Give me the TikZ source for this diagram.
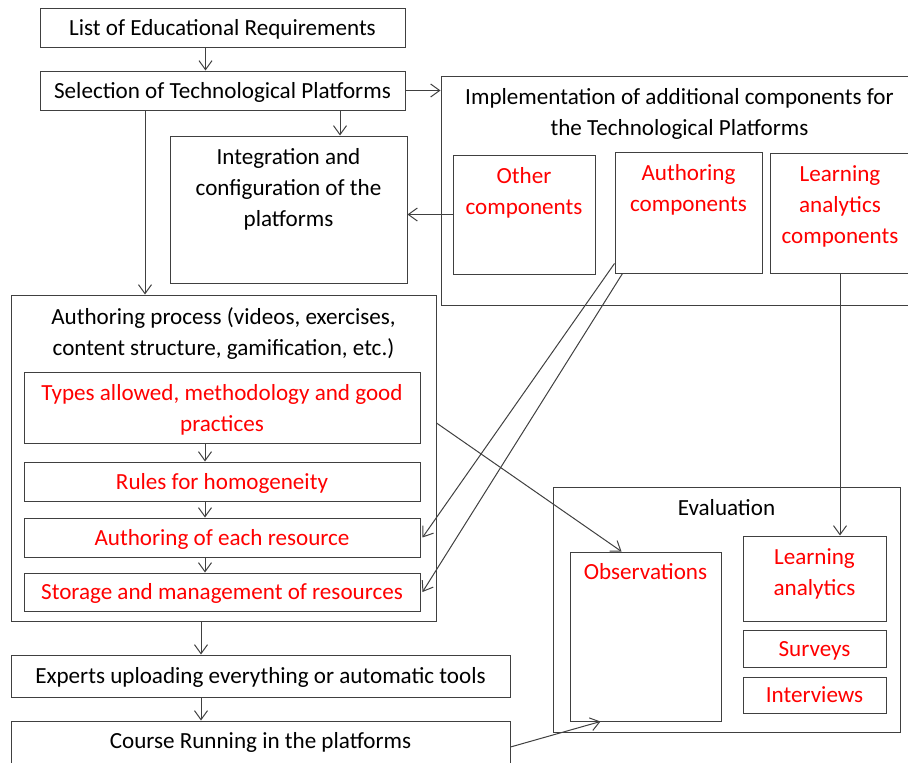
\documentclass[tikz,border=0pt]{standalone}
\usepackage{fontspec}
\setmainfont{Carlito}
\usetikzlibrary{arrows.meta,positioning}
\tikzset{
  blk/.style = {draw=black!75, line width=1pt, rectangle, inner sep=0pt},
  txt/.style = {font=\fontsize{23.1}{31}\selectfont, align=center, inner sep=0pt,
                execute at begin node=\strut, execute at end node=\strut},
  redtxt/.style = {txt, text=red},
  flow/.style = {draw=black!75, line width=1pt, -{Straight Barb[length=9pt,width=13pt]}}
}

\begin{document}
\begin{tikzpicture}[x=1pt,y=-1pt]
  	\useasboundingbox (0,0) rectangle (908,763);
  	\clip (0,0) rectangle (908,763);
  	
  	% left column
  	\node[blk, txt, minimum width=365pt, minimum height=39pt] (req) at (222.5,27.5) {};
  	\node[txt] (reqtxt) at ([yshift=-1.5pt]req.center) {List of Educational Requirements};
  	\node[blk, minimum width=365pt, minimum height=39pt] (sel) at (222.5,90.5) {};
  	\node[txt] (seltxt) at ([yshift=-1.5pt]sel.center) {Selection of Technological Platforms};
  	\node[blk, minimum width=237pt, minimum height=147pt] (integ) at (288.5,209.5) {};
  	\node[txt, below=13pt of integ.north] (integtxt) {Integration and\\configuration of the\\platforms};
  	
  	\node[blk, minimum width=425pt, minimum height=326pt] (proc) at (223.5,458) {};
  	\node[txt, below=13pt of proc.north] (proctxt) {Authoring process (videos, exercises,\\content structure, gamification, etc.)};
  	\node[blk, minimum width=396pt, minimum height=71pt] (types) at (222,407.5) {};
  	\node[redtxt] (typestxt) at ([yshift=-5pt]types.center) {Types allowed, methodology and good\\practices};
  	\node[blk, minimum width=396pt, minimum height=39pt] (rules) at (222,481.5) {};
  	\node[redtxt] (rulestxt) at ([yshift=-1.5pt]rules.center) {Rules for homogeneity};
  	\node[blk, minimum width=396pt, minimum height=39pt] (each) at (222,537.5) {};
  	\node[redtxt] (eachtxt) at ([yshift=-1.5pt]each.center) {Authoring of each resource};
  	\node[blk, minimum width=396pt, minimum height=38pt] (stor) at (222,592) {};
  	\node[redtxt] (stortxt) at ([yshift=-1.5pt]stor.center) {Storage and management of resources};
  	
  	\node[blk, minimum width=499pt, minimum height=42pt] (exp) at (260.5,676) {};
  	\node[txt] (exptxt) at ([yshift=-1.5pt]exp.center) {Experts uploading everything or automatic tools};
  	\node[blk, minimum width=499pt, minimum height=52pt] (course) at (260.5,747) {};
  	\node[txt] (coursetxt) at ([yshift=4.5pt]course.center) {Course Running in the platforms};
  	
  	% components
  	\node[blk, minimum width=477pt, minimum height=229pt] (impl) at (679.5,190.5) {};
  	\node[txt, below=13pt of impl.north] (impltxt) {Implementation of additional components for\\the Technological Platforms};
  	\node[blk, minimum width=142pt, minimum height=119pt] (other) at (524,214.5) {};
  	\node[redtxt, below=13pt of other.north] (othertxt) {Other\\components};
  	\node[blk, minimum width=147pt, minimum height=121pt] (authc) at (688.5,212.5) {};
  	\node[redtxt, below=13pt of authc.north] (authctxt) {Authoring\\components};
  	\node[blk, minimum width=140pt, minimum height=120pt] (lac) at (840,213) {};
  	\node[redtxt, below=13pt of lac.north] (lactxt) {Learning\\analytics\\components};
  	
  	% evaluation
  	\node[blk, minimum width=347pt, minimum height=245pt] (eval) at (726.5,609.5) {};
  	\node[txt, below=7pt of eval.north] (evaltxt) {Evaluation};
  	\node[blk, minimum width=151pt, minimum height=169pt] (obs) at (645.5,636.5) {};
  	\node[redtxt, below=6.5pt of obs.north] (obstxt) {Observations};
  	\node[blk, minimum width=143pt, minimum height=85pt] (la) at (814.5,578.5) {};
  	\node[redtxt, below=13pt of la.north] (latxt) {Learning\\analytics};
  	\node[blk, minimum width=143pt, minimum height=37pt] (surv) at (814.5,648.5) {};
  	\node[redtxt] (survtxt) at ([yshift=-1.5pt]surv.center) {Surveys};
  	\node[blk, minimum width=143pt, minimum height=36pt] (intv) at (814.5,695) {};
  	\node[redtxt] (intvtxt) at ([yshift=-1.5pt]intv.center) {Interviews};
  	
  	% connectors
  	\draw[flow] ([xshift=-17pt]req.south) -- ([xshift=-17pt]sel.north);
  	\draw[flow] (sel.east) -- (sel.east -| impl.west);
  	\draw[flow] ([xshift=117.5pt]sel.south) -- ([xshift=117.5pt]sel.south |- integ.north);
  	\draw[flow] ([xshift=-77.5pt]sel.south) -- ([xshift=-77.5pt]sel.south |- proc.north);
  	\draw[flow] (other.west) -- (other.west -| integ.east);
  	\draw[flow] ([xshift=-17pt]types.south) -- ([xshift=-17pt]rules.north);
  	\draw[flow] ([xshift=-17pt]rules.south) -- ([xshift=-17pt]each.north);
  	\draw[flow] ([xshift=-17pt]each.south) -- ([xshift=-17pt]stor.north);
  	\draw[flow] ([yshift=10pt]authc.south west) -- ([xshift=2pt]each.east);
  	\draw[flow] ([xshift=8pt]authc.south west) -- ([xshift=2pt]stor.east);
  	\draw[flow] ([yshift=-15.5pt]types.east -| proc.east) -- ([xshift=-24pt]obs.north);
  	\draw[flow] (lac.south) -- (lac.south |- la.north);
  	\draw[flow] ([xshift=-22.5pt]proc.south) -- ([xshift=-22.5pt]proc.south |- exp.north);
  	\draw[flow] ([xshift=-59.5pt]exp.south) -- ([xshift=-59.5pt]exp.south |- course.north);
  	\draw[flow] (course.east) -- ([xshift=-45pt]obs.south);
  	%\draw[flow] (obs.east) -- (la.west);
\end{tikzpicture}
\end{document}
